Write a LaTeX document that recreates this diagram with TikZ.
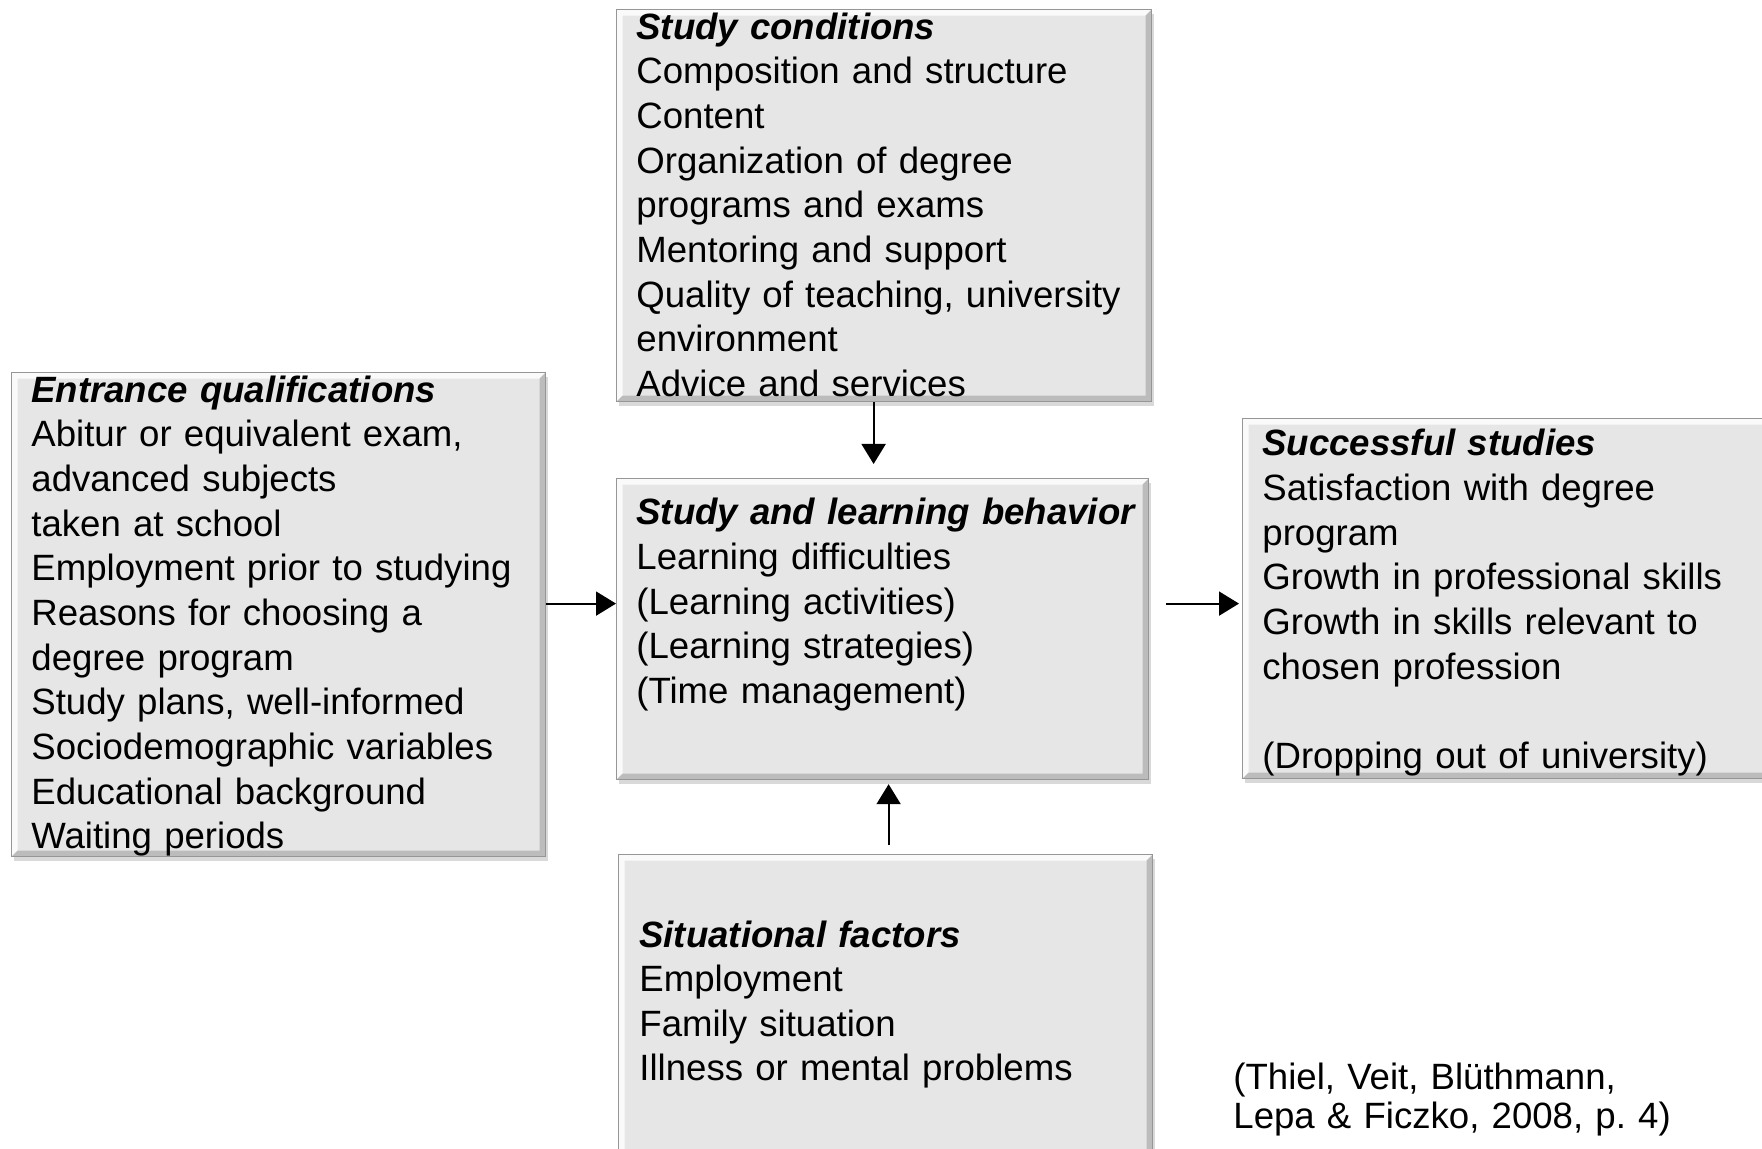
\documentclass[tikz,border=0pt]{standalone}
\usepackage{fontspec}
\setmainfont{Liberation Sans}
\usepackage{tikz}
\usetikzlibrary{calc,arrows.meta,shadows}
\frenchspacing
\definecolor{boxfill}{RGB}{230,230,230}
\definecolor{boxedge}{RGB}{150,150,150}
\tikzstyle{factorbox}=[rectangle,
                       draw=boxedge,
                       fill=boxfill,
                       line width=0.6pt,
                       anchor=north west,
                       inner sep=0pt,
                       drop shadow={shadow xshift=1pt,shadow yshift=-2pt,opacity=0.3},
                       path picture={
                         \fill[white,opacity=0.8] (path picture bounding box.north west)
                           -- (path picture bounding box.north east)
                           -- ([xshift=-3pt,yshift=-3pt]path picture bounding box.north east)
                           -- ([xshift=3pt,yshift=-3pt]path picture bounding box.north west)
                           -- ([xshift=3pt,yshift=3pt]path picture bounding box.south west)
                           -- (path picture bounding box.south west) -- cycle;
                         \fill[black,opacity=0.18] (path picture bounding box.south west)
                           -- (path picture bounding box.south east)
                           -- (path picture bounding box.north east)
                           -- ([xshift=-3pt,yshift=-3pt]path picture bounding box.north east)
                           -- ([xshift=-3pt,yshift=3pt]path picture bounding box.south east)
                           -- ([xshift=3pt,yshift=3pt]path picture bounding box.south west) -- cycle;}]
\tikzstyle{boxtext}=[anchor=base west,
                     inner sep=0pt,
                     text width=260pt,
                     align=left,
                     font=\fontsize{18.3pt}{22.33pt}\selectfont]
\tikzstyle{cite}=[boxtext,
                  font=\fontsize{18.3pt}{19.65pt}\selectfont]
\tikzstyle{flow}=[-{Triangle[length=10pt,width=12pt]},line width=1pt]
\newcommand{\head}[1]{\textbf{\textit{#1}}}

\begin{document}
\begin{tikzpicture}[x=0.5pt,y=0.5pt]
      \useasboundingbox (0,0) rectangle (1762,1148);

      \node[factorbox,minimum width=267.5pt,minimum height=196pt] (cond)  at (616,1139) {};
      \node[factorbox,minimum width=267pt,minimum height=242pt]   (entr)  at (11,776)   {};
      \node[factorbox,minimum width=266pt,minimum height=150.5pt] (behav) at (616,670)  {};
      \node[factorbox,minimum width=266.5pt,minimum height=180pt] (succ)  at (1242,730) {};
      \node[factorbox,minimum width=267pt,minimum height=160pt]   (situ)  at (618,294)  {};

      \node[boxtext] (condtext) at ([shift={(20,-30.3)}]cond.north west)
        {\head{Study conditions}\\
         Composition and structure\\
         Content\\
         Organization of degree\\
         programs and exams\\
         Mentoring and support\\
         Quality of teaching, university\\
         environment\\
         Advice and services};
      \node[boxtext] (entrtext) at ([shift={(20,-30.3)}]entr.north west)
        {\head{Entrance qualifications}\\
         Abitur or equivalent exam,\\
         advanced subjects\\
         taken at school\\
         Employment prior to studying\\
         Reasons for choosing a\\
         degree program\\
         Study plans, well-informed\\
         Sociodemographic variables\\
         Educational background\\
         Waiting periods};
      \node[boxtext] (behavtext) at ([shift={(20,-46.8)}]behav.north west)
        {\head{Study and learning behavior}\\
         Learning difficulties\\
         (Learning activities)\\
         (Learning strategies)\\
         (Time management)};
      \node[boxtext] (succtext) at ([shift={(20,-38)}]succ.north west)
        {\head{Successful studies}\\
         Satisfaction with degree\\
         program\\
         Growth in professional skills\\
         Growth in skills relevant to\\
         chosen profession\\
         ~\\
         (Dropping out of university)};
      \node[boxtext] (situtext) at ([shift={(21,-93)}]situ.north west)
        {\head{Situational factors}\\
         Employment\\
         Family situation\\
         Illness or mental problems};
      \node[cite] (source) at (1233,59)
        {(Thiel, Veit, Blüthmann,\\
         Lepa \& Ficzko, 2008, p. 4)};

      \draw[flow,shorten >=7pt] ([xshift=-5.25pt]cond.south) -- ([xshift=-5.25pt]cond.south |- behav.north);
      \draw[flow,shorten <=4.5pt,shorten >=2pt] ([xshift=1.5pt]situ.north) -- ([xshift=1.5pt]situ.north |- behav.south);
      \draw[flow] ([yshift=5.5pt]entr.east) -- ([yshift=5.5pt]entr.east -| behav.west);
      \draw[flow,shorten <=8.5pt,shorten >=1.5pt] ([yshift=12.75pt]behav.east) -- ([yshift=12.75pt]behav.east -| succ.west);
    \end{tikzpicture}
\end{document}
